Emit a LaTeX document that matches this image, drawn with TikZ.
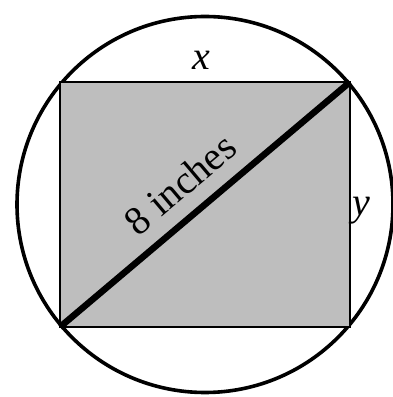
\documentclass[tikz,border=0pt]{standalone}
\usepackage{fontspec}
\setmainfont{Liberation Serif}
\begin{document}
\begin{tikzpicture}[x=1pt,y=1pt,
  rectbox/.style={fill={rgb,255:red,190;green,190;blue,190}, draw=black, line width=2pt},
  ring/.style={draw=black, line width=3.6pt},
  diag/.style={draw=black, line width=6.5pt},
  lbl/.style={font=\fontsize{40}{42}\selectfont, inner sep=0pt}]
\useasboundingbox (0,0) rectangle (393,397);
\coordinate (c) at (205,192.5);
\draw[ring] (c) circle (188);
\coordinate (bl) at (60,70);
\coordinate (tr) at (350,315);
\draw[rectbox] (bl) rectangle (tr);
\draw[diag] (bl) -- (tr);
\node[lbl] (x) at (201,337) {\itshape x};
\node[lbl] (y) at (361,186) {\itshape y};
\node[lbl, rotate=40.2] (d) at (180,213) {8 inches};
\end{tikzpicture}
\end{document}
